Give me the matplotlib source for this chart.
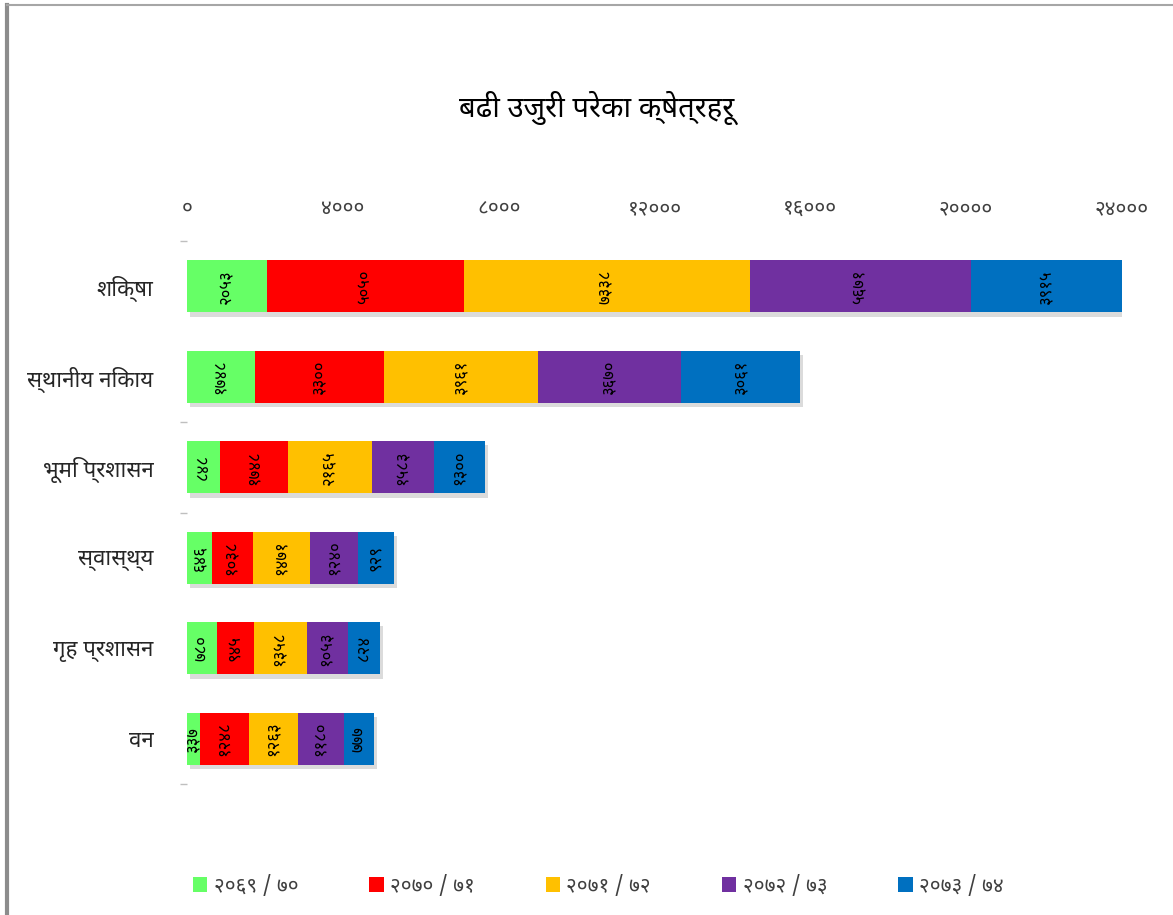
import matplotlib
matplotlib.use("Agg")
import matplotlib.pyplot as plt
import matplotlib.patheffects as pe
from matplotlib.lines import Line2D
from matplotlib.ticker import FuncFormatter, FixedLocator
import numpy as np

FONT = ['Noto Sans Devanagari', 'Mukta', 'FreeSans', 'DejaVu Sans']
plt.rcParams['font.family'] = FONT

title = "बढी उजुरी परेका क्षेत्रहरू"
categories = ["शिक्षा", "स्थानीय निकाय", "भूमि प्रशासन", "स्वास्थ्य", "गृह प्रशासन", "वन"]
series_names = ["२०६९ / ७०", "२०७० / ७१", "२०७१ / ७२", "२०७२ / ७३", "२०७३ / ७४"]
y2069_70 = [2053, 1748, 848, 646, 780, 337]
y2070_71 = [5050, 3300, 1748, 1038, 945, 1248]
y2071_72 = [7338, 3961, 2165, 1471, 1358, 1263]
y2072_73 = [5671, 3670, 1583, 1240, 1053, 1180]
y2073_74 = [3915, 3061, 1300, 929, 824, 777]
x_ticks = [0, 4000, 8000, 12000, 16000, 20000, 24000]

colors = ["#66FF66", "#FF0000", "#FFC000", "#7030A0", "#0070C0"]
series = [y2069_70, y2070_71, y2071_72, y2072_73, y2073_74]

DEV = str.maketrans("0123456789", "०१२३४५६७८९")
def dev(n):
    return str(int(n)).translate(DEV)

fig = plt.figure(figsize=(11.73, 9.15), dpi=100)
ax = fig.add_axes([187/1173, 1-784/915, 935/1173, 543/915])

ypos = np.arange(len(categories))
left = np.zeros(len(categories))
shadow = [pe.SimplePatchShadow(offset=(2, -3), shadow_rgbFace='#b0b0b0', alpha=0.45), pe.Normal()]
for vals, col, name in zip(series, colors, series_names):
    vals = np.array(vals, dtype=float)
    bars = ax.barh(ypos, vals, left=left, height=0.58, color=col, label=name,
                   edgecolor='none')
    for b in bars:
        b.set_path_effects(shadow)
    for yi, (l, v) in enumerate(zip(left, vals)):
        ax.text(l + v/2, yi, dev(v), rotation=90, ha='center', va='center',
                fontsize=12, color='black')
    left += vals

ax.set_xlim(0, 24000)
ax.set_ylim(5.5, -0.5)
ax.xaxis.tick_top()
ax.set_xticks(x_ticks)
ax.xaxis.set_major_formatter(FuncFormatter(lambda v, p: dev(v)))
ax.tick_params(axis='x', length=0, pad=16, labelsize=15, labelcolor='#404040')
ax.set_yticks(ypos)
ax.set_yticklabels(categories)
ax.tick_params(axis='y', which='major', length=0, pad=24, labelsize=16, labelcolor='#262626')
ax.yaxis.set_minor_locator(FixedLocator([-0.5, 1.5, 2.5, 5.5]))
ax.tick_params(axis='y', which='minor', length=5, width=1, color='#bfbfbf')
for s in ax.spines.values():
    s.set_visible(False)

fig.text(0.509, 1-108/915, title, ha='center', va='center', fontsize=21,
         fontweight='bold', color='black')

leg = fig.legend(loc='center', bbox_to_anchor=(0.51, 1-886/915), ncol=5, frameon=False,
                 fontsize=15, handlelength=0.7, handleheight=0.7, columnspacing=3.4,
                 handletextpad=0.3)
for h in leg.legend_handles:
    h.set_path_effects([])
for t in leg.get_texts():
    t.set_color('#404040')

# frame lines of the original image
fig.add_artist(Line2D([7/1173, 7/1173], [0, 1-5/915], transform=fig.transFigure,
                      color='#8c8c8c', lw=3))
fig.add_artist(Line2D([7/1173, 1], [1-5/915, 1-5/915], transform=fig.transFigure,
                      color='#a6a6a6', lw=1.5))

fig.savefig("out.png", dpi=100)
